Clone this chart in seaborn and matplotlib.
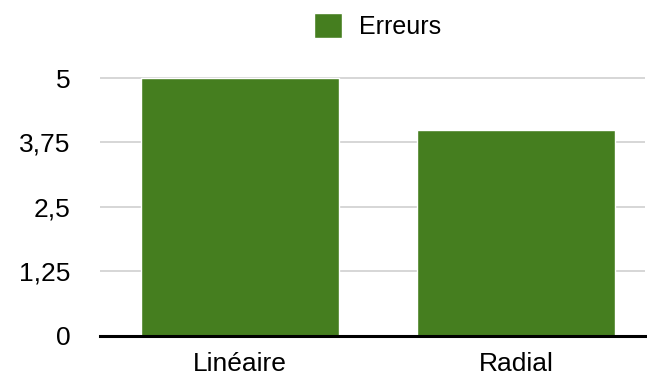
import matplotlib
matplotlib.use("Agg")
import matplotlib.pyplot as plt
import seaborn as sns
import pandas as pd

categories = ["Linéaire", "Radial"]
erreurs = [5, 4]
series_name = "Erreurs"
y_ticks = [0, 1.25, 2.5, 3.75, 5]
y_tick_labels = ["0", "1,25", "2,5", "3,75", "5"]

bar_color = "#457E1F"

sns.set_theme(style="white")
plt.rcParams["font.family"] = ["Liberation Sans", "DejaVu Sans"]

df = pd.DataFrame({"cat": categories, "val": erreurs, "serie": series_name})

W, H = 647, 376
fig = plt.figure(figsize=(W / 100, H / 100), dpi=100)
ax = fig.add_axes([100 / W, 1 - 335.5 / H, (645 - 100) / W, (335.5 - 77) / H])

sns.barplot(data=df, x="cat", y="val", hue="serie", palette=[bar_color],
            width=0.717, ax=ax, saturation=1, legend=True, zorder=3)

ax.set_ylim(0, 5.02)
ax.set_xlim(-0.507, 1.467)
ax.set_yticks(y_ticks)
ax.set_yticklabels(y_tick_labels)
ax.set_xlabel("")
ax.set_ylabel("")
ax.tick_params(axis="both", length=0, labelsize=19, colors="#000000")
ax.tick_params(axis="y", pad=21)
ax.tick_params(axis="x", pad=12)

ax.yaxis.grid(True, color="#CCCCCC", linewidth=1.1, zorder=0)
ax.set_axisbelow(True)
for side in ["top", "right", "left"]:
    ax.spines[side].set_visible(False)
ax.spines["bottom"].set_color("black")
ax.spines["bottom"].set_linewidth(2.2)
ax.spines["bottom"].set_zorder(5)

handles, labels = ax.get_legend_handles_labels()
ax.get_legend().remove()
fig.legend(handles, labels, loc="center",
           bbox_to_anchor=((315 + 440) / 2 / W, 1 - 26 / H),
           frameon=False, fontsize=18, handlelength=1.12, handleheight=1.12,
           handletextpad=0.7, borderpad=0, borderaxespad=0,
           labelcolor="#000000")

fig.savefig("out.png", dpi=100)
